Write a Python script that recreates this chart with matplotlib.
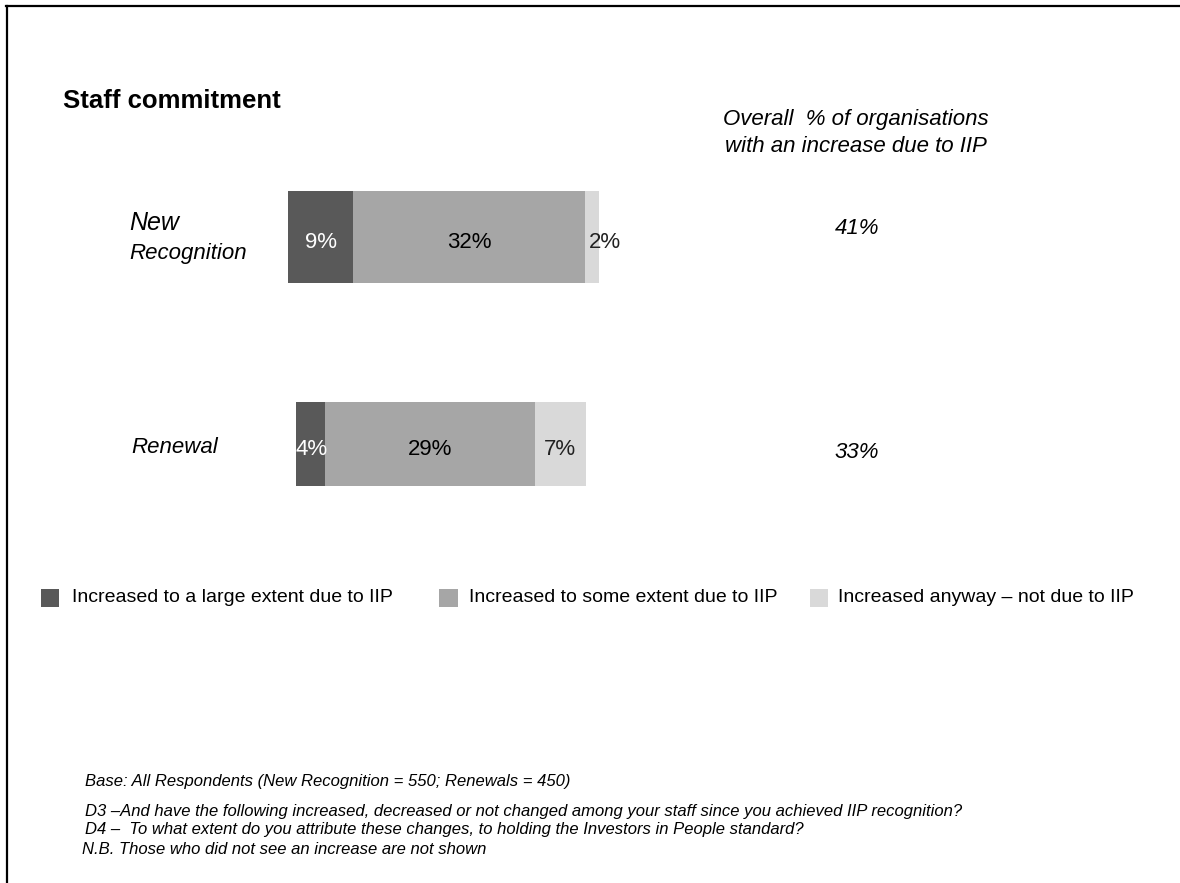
import matplotlib
matplotlib.use("Agg")
import matplotlib.pyplot as plt
from matplotlib.lines import Line2D
from matplotlib.patches import Rectangle

plt.rcParams['font.family'] = ['Liberation Sans', 'DejaVu Sans']

# ---- data ----
categories = ["New Recognition", "Renewal"]
series_names = ["Increased to a large extent due to IIP",
                "Increased to some extent due to IIP",
                "Increased anyway \u2013 not due to IIP"]
large_extent = [9, 4]
some_extent = [32, 29]
anyway = [2, 7]
overall_due_to_iip = [41, 33]

# ---- styling ----
colors = ["#595959", "#a6a6a6", "#d9d9d9"]
label_colors = ["white", "black", "#222222"]
bar_start = [0.0, 1.1]          # horizontal start of each stacked bar (%)
bar_heights = [0.445, 0.405]    # bar thickness per row (row units)
overall_nudge = [2.2, -9.9]     # vertical nudge of the overall figures (pt)

W, H = 1180, 883
fig = plt.figure(figsize=(W / 100, H / 100), dpi=100)
ax = fig.add_axes([0, 0, 1, 1])
ax.set_axis_off()

# axis scaling: 0 % sits at x=288 px, 7.24 px per percentage point
px_per_pct = 7.24
zero_px = 288
ax.set_xlim(-zero_px / px_per_pct, (W - zero_px) / px_per_pct)
# categories at y=0 (237 px) and y=1 (444 px)
row0_px, row_step = 237, 207
ax.set_ylim((H - row0_px) / row_step, -row0_px / row_step)

series = [large_extent, some_extent, anyway]
ypos = list(range(len(categories)))
left = list(bar_start)
for s, vals in enumerate(series):
    ax.barh(ypos, vals, left=left, height=bar_heights, color=colors[s], edgecolor="none")
    for i, v in enumerate(vals):
        if v < 5:
            x, ha = left[i], "left"
            if s == 2:
                x = left[i] + 0.6
        else:
            x, ha = left[i] + v / 2, "center"
        ax.annotate(f"{v}%", xy=(x, i), xytext=(0, -8), textcoords="offset points",
                    ha=ha, va="baseline", fontsize=16, color=label_colors[s])
    left = [l + v for l, v in zip(left, vals)]

def fx(px):
    return px / W

def fy(px):
    return 1 - px / H

# title
fig.text(fx(63), fy(108), "Staff commitment", fontsize=18.5, fontweight="bold",
         va="baseline", ha="left")

# category labels
ax.annotate("New", xy=(fx(129), 0), xycoords=("figure fraction", "data"),
            xytext=(0, 5), textcoords="offset points",
            fontsize=18, style="italic", ha="left", va="baseline")
ax.annotate("Recognition", xy=(fx(129), 0), xycoords=("figure fraction", "data"),
            xytext=(0, -16), textcoords="offset points",
            fontsize=16, style="italic", ha="left", va="baseline")
ax.annotate("Renewal", xy=(fx(131), 1), xycoords=("figure fraction", "data"),
            xytext=(0, -6.5), textcoords="offset points",
            fontsize=16, style="italic", ha="left", va="baseline")

# overall column
fig.text(fx(856), fy(125), "Overall  % of organisations", fontsize=16,
         style="italic", ha="center", va="baseline")
fig.text(fx(856), fy(152.5), "with an increase due to IIP", fontsize=16,
         style="italic", ha="center", va="baseline")
for i, v in enumerate(overall_due_to_iip):
    ax.annotate(f"{v}%", xy=(fx(857), i), xycoords=("figure fraction", "data"),
                xytext=(0, overall_nudge[i]), textcoords="offset points",
                fontsize=16, style="italic", ha="center", va="baseline")

# legend
sq_left = [40.7, 439, 810]
txt_left = [72, 468.6, 837.8]
sq = 18.5
for s in range(3):
    fig.patches.append(Rectangle((fx(sq_left[s]), fy(598 + sq / 2)), sq / W, sq / H,
                                 transform=fig.transFigure, facecolor=colors[s],
                                 edgecolor="none"))
    fig.text(fx(txt_left[s]), fy(598), series_names[s], fontsize=14,
             ha="left", va="center")

# notes
notes = [
    (85, 786, "Base: All Respondents (New Recognition = 550; Renewals = 450)"),
    (85, 816, "D3 \u2013And have the following increased, decreased or not changed among your staff since you achieved IIP recognition?"),
    (85, 834, "D4 \u2013  To what extent do you attribute these changes, to holding the Investors in People standard?"),
    (82, 854, "N.B. Those who did not see an increase are not shown"),
]
for x, y, t in notes:
    fig.text(fx(x), fy(y), t, fontsize=12, style="italic",
             ha="left", va="baseline")

# frame lines
fig.lines.append(Line2D([fx(6), 1], [fy(6), fy(6)], transform=fig.transFigure,
                        color="black", lw=1.6))
fig.lines.append(Line2D([fx(7), fx(7)], [fy(6), 0], transform=fig.transFigure,
                        color="black", lw=1.6))

fig.savefig("out.png", dpi=100)
